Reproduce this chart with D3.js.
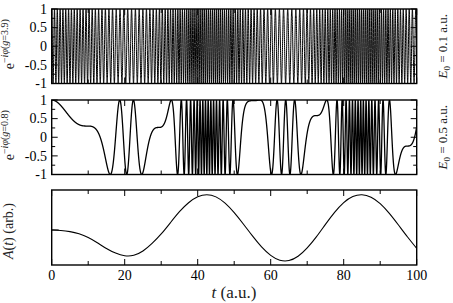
<!DOCTYPE html>
<html>
<head>
<meta charset="utf-8">
<script src="https://cdn.jsdelivr.net/npm/d3@7"></script>
<style>
  body { margin: 0; background: #fff; }
  svg { display: block; }
</style>
</head>
<body>
<div id="chart"></div>
<script>
// A(t) (arb. units, 0 = left tick, 1 = peak)
const tValues = [0, 2.5, 5, 7.5, 10, 12.5, 15, 17.5, 20, 22.5, 25, 27.5, 30, 32.5, 35, 37.5,
                 40, 42.5, 45, 47.5, 50, 52.5, 55, 57.5, 60, 62.5, 65, 67.5, 70, 72.5, 75,
                 77.5, 80, 82.5, 85, 87.5, 90, 92.5, 95, 97.5, 100];
const aValues = [0, -0.01, -0.04, -0.10, -0.20, -0.35, -0.52, -0.65, -0.73, -0.72, -0.60, -0.38,
                 -0.12, 0.20, 0.52, 0.77, 0.94, 1.00, 0.94, 0.76, 0.49, 0.17, -0.17, -0.48,
                 -0.72, -0.86, -0.87, -0.75, -0.51, -0.20, 0.16, 0.50, 0.78, 0.95, 1.00, 0.93,
                 0.75, 0.47, 0.14, -0.20, -0.51];

// the two phase panels
const gValues = ["3.9", "0.8"];
const fieldValues = ["0.1", "0.5"];

// turning points / plateaus (t, value)
const midT = [10.5, 15.2, 18.4, 20.5, 22.4, 24.4, 29.6, 31.5, 34, 54.5, 57.5, 68.3, 72.5, 75.3, 77.6, 94.9, 97.5, 100];
const midV = [-0.35, -1, 1, -1, 1, -1, 0.85, 1, -1, 0.95, 1, -1, 0.25, 1, -1, -1, 0.25, 0.5];

// top panel: phase rate = k * (A - a0)^2, estimated from the fringe spacing
const topK = 0.356, topA0 = -4.8;

const xTicks = [0, 20, 40, 60, 80, 100];
const yTicks = [1, 0.5, 0, -0.5, -1];
const yTickLabels = ["1", "0.5", "0", "-0.5", "-1"];

const FONT = "'Liberation Serif', 'Times New Roman', Tinos, 'DejaVu Serif', serif";
const W = 453, H = 303;
const svg = d3.select("#chart").append("svg").attr("width", W).attr("height", H)
  .attr("font-family", FONT);

const x = d3.scaleLinear().domain([0, 100]).range([51.7, 416.7]);
const panels = [
  { top: 9, bottom: 83.5 },
  { top: 100, bottom: 174.5 },
  { top: 190, bottom: 265 }
];

// phase integrals of A(t)
const aAt = d3.interpolateBasis(aValues);
const dt = 0.01;
const ts = d3.range(0, 100 + dt / 2, dt);
const I1 = [0], I2 = [0];
for (let i = 1; i < ts.length; i++) {
  const a = aAt(ts[i - 1] / 100), b = aAt(ts[i] / 100);
  I1.push(I1[i - 1] + 0.5 * (a + b) * dt);
  I2.push(I2[i - 1] + 0.5 * (a * a + b * b) * dt);
}
const phiAt = (i, k, a0) => k * (I2[i] - 2 * a0 * I1[i] + a0 * a0 * ts[i]);

// middle panel: pick k, a0 that best reproduce the read turning points
let best = { k: 6.7, a0: -0.22, cost: Infinity };
const idx = midT.map(t => Math.round(t / dt));
for (let k = 5; k <= 8.5; k += 0.002) {
  for (let a0 = -0.35; a0 <= -0.1; a0 += 0.002) {
    let c = 0;
    for (let j = 0; j < idx.length; j++) {
      const e = Math.cos(phiAt(idx[j], k, a0)) - midV[j];
      c += e * e;
    }
    if (c < best.cost) best = { k, a0, cost: c };
  }
}
const panelParams = [[topK, topA0], [best.k, best.a0]];

function ticksX(g, p, labels) {
  xTicks.forEach(v => {
    g.append("line").attr("x1", x(v)).attr("x2", x(v)).attr("y1", p.bottom).attr("y2", p.bottom - 6);
    g.append("line").attr("x1", x(v)).attr("x2", x(v)).attr("y1", p.top).attr("y2", p.top + 6);
  });
  d3.range(10, 100, 20).forEach(v => {
    g.append("line").attr("x1", x(v)).attr("x2", x(v)).attr("y1", p.bottom).attr("y2", p.bottom - 4);
    g.append("line").attr("x1", x(v)).attr("x2", x(v)).attr("y1", p.top).attr("y2", p.top + 4);
  });
  if (labels) {
    xTicks.forEach(v => {
      svg.append("text").attr("x", x(v)).attr("y", p.bottom + 14.5)
        .attr("text-anchor", "middle").attr("font-size", 14).text(v);
    });
  }
}

[0, 1].forEach(i => {
  const p = panels[i];
  const y = d3.scaleLinear().domain([-1, 1]).range([p.bottom, p.top]);
  const [k, a0] = panelParams[i];
  const data = ts.map((t, j) => [t, Math.cos(phiAt(j, k, a0))]);

  svg.append("defs").append("clipPath").attr("id", "clip" + i)
    .append("rect").attr("x", x(0)).attr("y", p.top).attr("width", x(100) - x(0)).attr("height", p.bottom - p.top);

  svg.append("path").datum(data)
    .attr("clip-path", `url(#clip${i})`)
    .attr("fill", "none").attr("stroke", "#000").attr("stroke-width", i === 0 ? 1 : 1.3)
    .attr("d", d3.line().x(d => x(d[0])).y(d => y(d[1])));

  const g = svg.append("g").attr("stroke", "#000").attr("stroke-width", 1);
  yTicks.forEach(v => {
    g.append("line").attr("x1", x(0)).attr("x2", x(0) + 6).attr("y1", y(v)).attr("y2", y(v));
    g.append("line").attr("x1", x(100)).attr("x2", x(100) - 6).attr("y1", y(v)).attr("y2", y(v));
  });
  [0.75, 0.25, -0.25, -0.75].forEach(v => {
    g.append("line").attr("x1", x(0)).attr("x2", x(0) + 3.5).attr("y1", y(v)).attr("y2", y(v));
    g.append("line").attr("x1", x(100)).attr("x2", x(100) - 3.5).attr("y1", y(v)).attr("y2", y(v));
  });
  ticksX(g, p, false);
  yTicks.forEach((v, j) => {
    svg.append("text").attr("x", 47).attr("y", y(v) + 4.8)
      .attr("text-anchor", "end").attr("font-size", 14).text(yTickLabels[j]);
  });

  svg.append("rect").attr("x", x(0)).attr("y", p.top)
    .attr("width", x(100) - x(0)).attr("height", p.bottom - p.top)
    .attr("fill", "none").attr("stroke", "#000").attr("stroke-width", 1.4);

  // left label e^{-i phi(g=..)}
  const cy = (p.top + p.bottom) / 2 - 2;
  const lab = svg.append("text").attr("transform", `translate(13.5,${cy}) rotate(-90)`)
    .attr("text-anchor", "middle").attr("font-size", 14).attr("fill", "#222");
  lab.append("tspan").text("e");
  lab.append("tspan").attr("font-size", 10).attr("dy", -6).text("\u2212");
  lab.append("tspan").attr("font-size", 10).attr("font-style", "italic").text("i\u03c6");
  lab.append("tspan").attr("font-size", 10).text("(");
  lab.append("tspan").attr("font-size", 10).attr("font-style", "italic").text("g");
  lab.append("tspan").attr("font-size", 10).text("=" + gValues[i] + ")");

  // right label E0 = .. a.u.
  const rl = svg.append("text").attr("transform", `translate(446.5,${cy + 2}) rotate(-90)`)
    .attr("text-anchor", "middle").attr("font-size", 13).attr("fill", "#222");
  rl.append("tspan").attr("font-style", "italic").text("E");
  rl.append("tspan").attr("font-size", 9).attr("dy", 3).text("0");
  rl.append("tspan").attr("dy", -3).text(" = " + fieldValues[i] + " a.u.");
});

// bottom panel: A(t)
{
  const p = panels[2];
  const y = d3.scaleLinear().domain([-0.972, 1.111]).range([p.bottom, p.top]);
  svg.append("path").datum(tValues.map((t, i) => [t, aValues[i]]))
    .attr("fill", "none").attr("stroke", "#000").attr("stroke-width", 1.1)
    .attr("d", d3.line().x(d => x(d[0])).y(d => y(d[1])).curve(d3.curveBasis));

  const g = svg.append("g").attr("stroke", "#000").attr("stroke-width", 1);
  g.append("line").attr("x1", x(0)).attr("x2", x(0) + 7).attr("y1", y(0)).attr("y2", y(0));
  ticksX(g, p, true);

  svg.append("rect").attr("x", x(0)).attr("y", p.top)
    .attr("width", x(100) - x(0)).attr("height", p.bottom - p.top)
    .attr("fill", "none").attr("stroke", "#000").attr("stroke-width", 1.4);

  const al = svg.append("text").attr("transform", `translate(13,231) rotate(-90)`)
    .attr("text-anchor", "middle").attr("font-size", 14).attr("fill", "#222");
  al.append("tspan").attr("font-style", "italic").text("A");
  al.append("tspan").text("(");
  al.append("tspan").attr("font-style", "italic").text("t");
  al.append("tspan").text(") (arb.)");

  const xl = svg.append("text").attr("x", 234).attr("y", 298)
    .attr("text-anchor", "middle").attr("font-size", 17).attr("fill", "#222");
  xl.append("tspan").attr("font-style", "italic").text("t");
  xl.append("tspan").text(" (a.u.)");
}
</script>
</body>
</html>
